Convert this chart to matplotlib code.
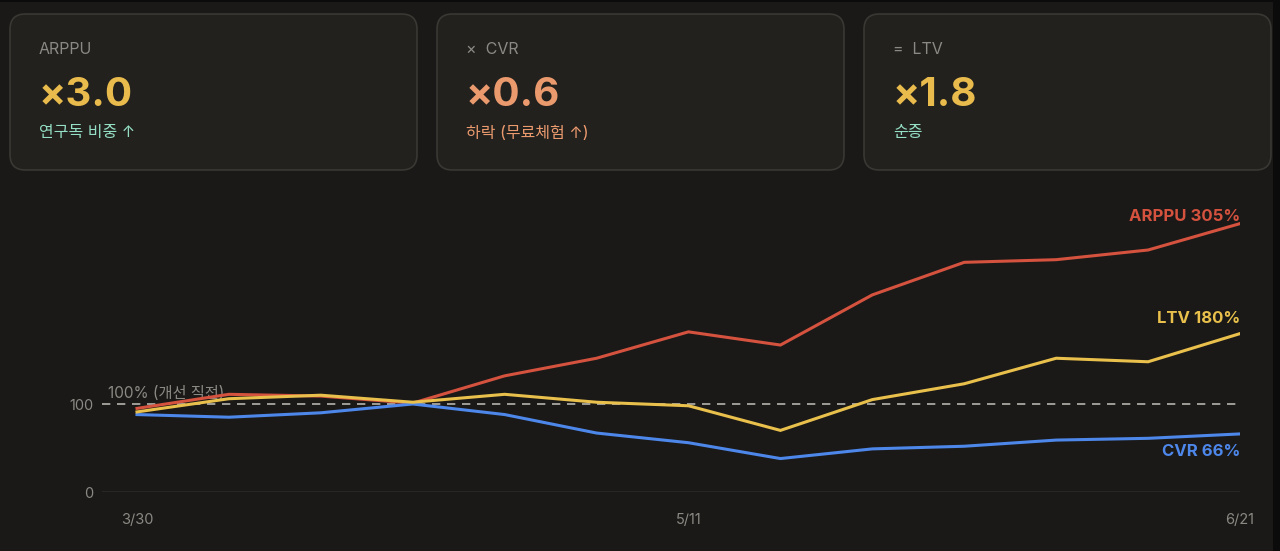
import matplotlib.pyplot as plt
from matplotlib.patches import FancyBboxPatch, Rectangle

plt.rcParams['font.family'] = ['Inter', 'Noto Sans CJK KR', 'DejaVu Sans']

# weekly data points, 3/30 .. 6/21 (index: 100 = just before improvement)
weeks = list(range(13))
week_labels = {0: '3/30', 6: '5/11', 12: '6/21'}
arppu = [95, 111, 109, 101, 132, 152, 182, 167, 224, 261, 264, 275, 305]
ltv = [91, 106, 110, 102, 111, 102, 98, 70, 105, 123, 152, 148, 180]
cvr = [88, 85, 90, 100, 88, 67, 56, 38, 49, 52, 59, 61, 66]

# cards at the top
card_titles = ['ARPPU', '×  CVR', '=  LTV']
card_values = ['×3.0', '×0.6', '×1.8']
card_notes = ['연구독 비중 ↑', '하락 (무료체험 ↑)', '순증']
card_value_colors = ['#e9bb4c', '#eb9a6e', '#e9bb4c']
card_note_colors = ['#95dfc4', '#eb9a6e', '#95dfc4']

BG = '#1a1918'
GREY = '#8b8983'
RED = '#d4523e'
YEL = '#e9c04b'
BLUE = '#4d87ea'

W, H = 1280, 551
fig = plt.figure(figsize=(12.8, 5.51), dpi=100)
fig.patch.set_facecolor(BG)

# dark frame on top and right edge like the screenshot
fig.patches.append(Rectangle((0, 1 - 2 / H), 1, 2 / H, transform=fig.transFigure,
                             facecolor='#0b0b0b', edgecolor='none'))
fig.patches.append(Rectangle((1273 / W, 0), 7 / W, 1, transform=fig.transFigure,
                             facecolor='#0b0b0b', edgecolor='none'))

card_x = [10, 437, 864]
card_w = 407
card_top, card_bot = 14, 170
for i in range(3):
    x0 = card_x[i]
    box = FancyBboxPatch((x0 / W, 1 - card_bot / H), card_w / W, (card_bot - card_top) / H,
                         boxstyle='round,pad=0,rounding_size=0.012',
                         transform=fig.transFigure, facecolor='#22211e',
                         edgecolor='#3a3833', linewidth=1.2, mutation_aspect=W / H)
    fig.patches.append(box)
    tx = (x0 + 29) / W
    fig.text(tx, 1 - 50 / H, card_titles[i], color=GREY, fontsize=11.5,
             va='center', ha='left')
    fig.text(tx, 1 - 96 / H, card_values[i], color=card_value_colors[i],
             fontsize=29, fontweight='bold', va='center', ha='left')
    fig.text(tx, 1 - 133 / H, card_notes[i], color=card_note_colors[i],
             fontsize=11.5, va='center', ha='left')

# line chart
ax_left, ax_right = 102, 1240
ax_bot, ax_top = 492, 200
ax = fig.add_axes([ax_left / W, 1 - ax_bot / H, (ax_right - ax_left) / W, (ax_bot - ax_top) / H])
ax.set_facecolor('none')
px_per_week = (1240 - 137) / 12
ax.set_xlim(-(137 - ax_left) / px_per_week, 12)
ax.set_ylim(0, (ax_bot - ax_top) / 0.88)

ax.axhline(0, color='#2c2b29', linewidth=1.2, zorder=1)
ax.axhline(100, color='#b5b3ad', linewidth=1.2, dashes=(5, 4), zorder=1)
ax.text(-(137 - 108) / px_per_week, 103, '100% (개선 직전)', color=GREY,
        fontsize=11, va='bottom', ha='left')

ax.plot(weeks, arppu, color=RED, linewidth=2.2, solid_joinstyle='miter', zorder=3)
ax.plot(weeks, cvr, color=BLUE, linewidth=2.2, solid_joinstyle='miter', zorder=3)
ax.plot(weeks, ltv, color=YEL, linewidth=2.2, solid_joinstyle='miter', zorder=4)

ax.text(12, arppu[-1] + 8, 'ARPPU %d%%' % arppu[-1], color=RED, fontsize=12,
        fontweight='bold', ha='right', va='center')
ax.text(12, ltv[-1] + 17, 'LTV %d%%' % ltv[-1], color=YEL, fontsize=12,
        fontweight='bold', ha='right', va='center')
ax.text(12, cvr[-1] - 20, 'CVR %d%%' % cvr[-1], color=BLUE, fontsize=12,
        fontweight='bold', ha='right', va='center')

for s in ax.spines.values():
    s.set_visible(False)
ax.set_yticks([0, 100])
ax.set_yticklabels(['0', '100'])
ax.set_xticks(list(week_labels.keys()))
ax.set_xticklabels(list(week_labels.values()))
ax.tick_params(axis='both', length=0, colors=GREY, labelsize=10.5)
ax.tick_params(axis='x', pad=15)
ax.tick_params(axis='y', pad=6)

fig.savefig('out.png', dpi=100, facecolor=BG)
